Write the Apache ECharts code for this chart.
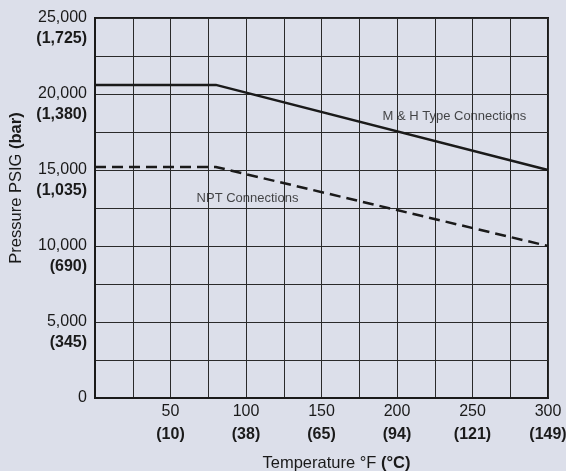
<!DOCTYPE html>
<html>
<head>
<meta charset="utf-8">
<script src="https://cdn.jsdelivr.net/npm/echarts@6/dist/echarts.min.js"></script>
<style>
  html, body { margin: 0; padding: 0; background: #dcdfea; }
  #chart { width: 566px; height: 471px; }
</style>
</head>
<body>
<div id="chart"></div>
<script>
// temperatures in °F, pressures in PSIG
const mhTemps = [0, 80, 300];
const mhPressure = [20600, 20600, 15000];
const nptTemps = [0, 80, 300];
const nptPressure = [15200, 15200, 10000];

// tick labels: °F -> (°C), PSIG -> (bar)
const xTickC = { 50: "10", 100: "38", 150: "65", 200: "94", 250: "121", 300: "149" };
const yTickBar = { 5000: "345", 10000: "690", 15000: "1,035", 20000: "1,380", 25000: "1,725" };

// annotation text positions (data coords)
const labelNotes = [
  { name: "M & H Type Connections", value: [238, 18550] },
  { name: "NPT Connections", value: [101, 13150] },
];

const chart = echarts.init(document.getElementById("chart"));

const font = "'Liberation Sans', Arial, Helvetica, sans-serif";

const option = {
  backgroundColor: "#dcdfea",
  animation: false,
  textStyle: { fontFamily: font },
  grid: {
    left: 95,
    right: 18,
    top: 18,
    bottom: 73,
    containLabel: false,
    outerBoundsMode: "none",
    show: true,
    borderColor: "#1a1a1a",
    borderWidth: 2,
    backgroundColor: "transparent",
  },
  xAxis: {
    type: "value",
    min: 0,
    max: 300,
    interval: 25,
    name: "{n|Temperature °F }{b|(°C)}",
    nameLocation: "middle",
    nameGap: 57,
    nameTextStyle: {
      rich: {
        n: { fontSize: 16.5, color: "#1a1a1a", fontFamily: font, padding: [0, 0, 0, 30] },
        b: { fontSize: 16.5, color: "#1a1a1a", fontWeight: "bold", fontFamily: font },
      },
    },
    axisLine: { show: true, lineStyle: { color: "#1a1a1a", width: 2 } },
    axisTick: { show: false },
    axisLabel: {
      margin: 2,
      lineHeight: 23,
      formatter: function (v) {
        if (!xTickC[v]) return "";
        return "{a|" + v + "}\n{b|(" + xTickC[v] + ")}";
      },
      rich: {
        a: { fontSize: 16, color: "#1a1a1a", fontFamily: font, lineHeight: 23 },
        b: { fontSize: 16, color: "#1a1a1a", fontWeight: "bold", fontFamily: font, lineHeight: 23 },
      },
    },
    splitLine: { show: true, lineStyle: { color: "#2a2a2a", width: 1 } },
  },
  yAxis: {
    type: "value",
    min: 0,
    max: 25000,
    interval: 2500,
    name: "{n|Pressure PSIG }{b|(bar)}",
    nameLocation: "middle",
    nameGap: 69,
    nameTextStyle: {
      padding: [0, 0, 0, 40],
      rich: {
        n: { fontSize: 16.5, color: "#1a1a1a", fontFamily: font },
        b: { fontSize: 16.5, color: "#1a1a1a", fontWeight: "bold", fontFamily: font },
      },
    },
    axisLine: { show: true, lineStyle: { color: "#1a1a1a", width: 2 } },
    axisTick: { show: false },
    axisLabel: {
      margin: 8,
      lineHeight: 21,
      formatter: function (v) {
        if (v === 0) return "{a|0}";
        if (!yTickBar[v]) return "";
        return "{e| }\n{a|" + v.toLocaleString("en-US") + "}\n{b|(" + yTickBar[v] + ")}";
      },
      rich: {
        e: { fontSize: 16, lineHeight: 21 },
        a: { fontSize: 16, color: "#1a1a1a", fontFamily: font, lineHeight: 21, align: "right" },
        b: { fontSize: 16, color: "#1a1a1a", fontWeight: "bold", fontFamily: font, lineHeight: 21, align: "right" },
      },
    },
    splitLine: { show: true, lineStyle: { color: "#2a2a2a", width: 1 } },
  },
  series: [
    {
      name: "M & H Type Connections",
      type: "line",
      data: mhTemps.map((t, i) => [t, mhPressure[i]]),
      symbol: "none",
      lineStyle: { color: "#1a1a1a", width: 2.5 },
      z: 5,
    },
    {
      name: "NPT Connections",
      type: "line",
      data: nptTemps.map((t, i) => [t, nptPressure[i]]),
      symbol: "none",
      lineStyle: { color: "#1a1a1a", width: 2.5, type: [11, 6] },
      z: 5,
    },
    {
      type: "scatter",
      symbolSize: 0,
      data: labelNotes,
      silent: true,
      label: {
        show: true,
        position: "inside",
        formatter: "{b}",
        fontSize: 13,
        color: "#1a1a1a",
        fontFamily: font,
      },
      z: 6,
    },
  ],
};

chart.setOption(option);
</script>
</body>
</html>
